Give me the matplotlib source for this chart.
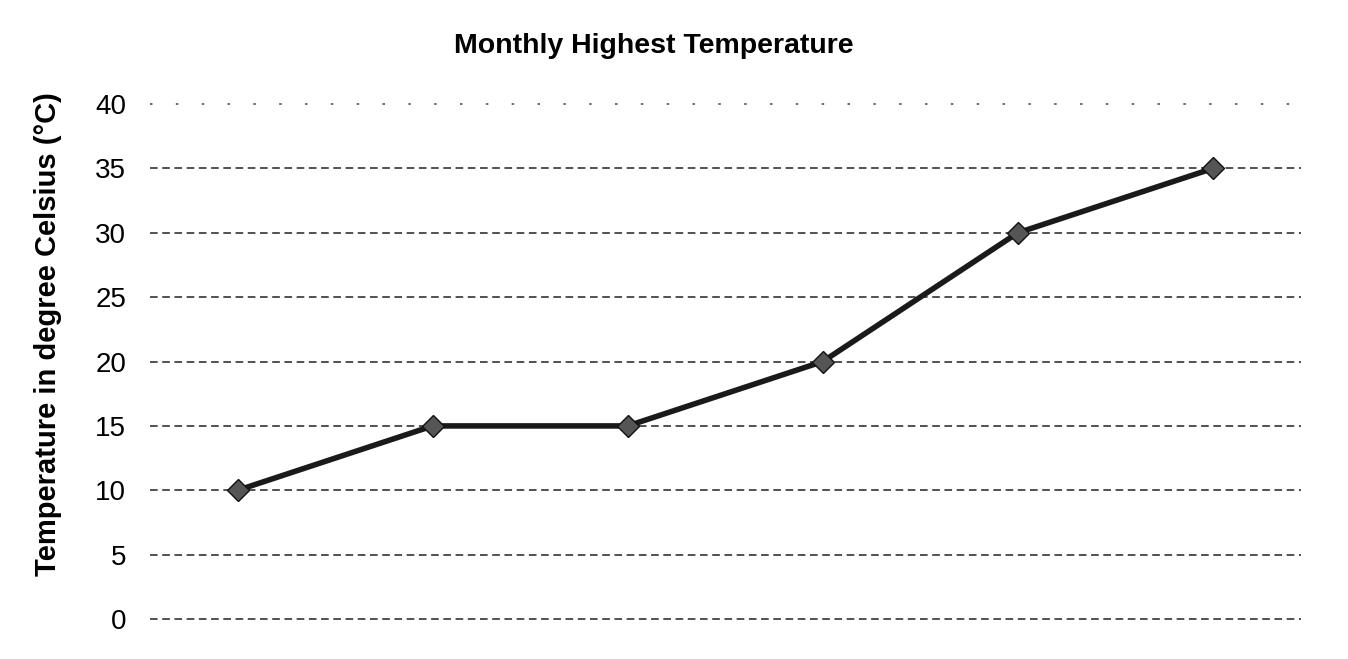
import matplotlib.pyplot as plt

plt.rcParams['font.family'] = ['Liberation Sans', 'DejaVu Sans']

# === Data ===
months = [1, 2, 3, 4, 5, 6]
temps = [10, 15, 15, 20, 30, 35]
y_ticks = [0, 5, 10, 15, 20, 25, 30, 35, 40]

fig = plt.figure(figsize=(13.48, 6.59), dpi=100)
ax = fig.add_axes([0.104, 0.0607, 0.868, 0.7813])

# dashed gridlines, the top one sparse dotted like the scan
for t in y_ticks:
    if t == 40:
        ax.axhline(t, xmin=0.008, xmax=0.992, color='#555555', lw=1.2,
                   ls=(0, (1.5, 14)), zorder=1, clip_on=False)
    else:
        ax.axhline(t, xmin=0.008, xmax=0.992, color='#222222', lw=1.1,
                   ls=(0, (5, 3)), zorder=1, clip_on=False)

x = [m - 0.5 for m in months]
ax.plot(x, temps, color='#1a1a1a', lw=4, marker='D', markersize=11,
        markerfacecolor='#555555', markeredgecolor='#111111', zorder=3)

ax.set_xlim(0, 6)
ax.set_ylim(0, 40)
ax.set_yticks(y_ticks)
ax.set_xticks([])
ax.tick_params(axis='y', length=0, pad=10, labelsize=20)
for s in ax.spines.values():
    s.set_visible(False)

ax.set_ylabel('Temperature in degree Celsius (°C)', fontsize=21, fontweight='bold')
ax.yaxis.set_label_coords(-0.067, 0.553)
fig.text(0.485, 0.93, 'Monthly Highest Temperature', ha='center', va='center',
         fontsize=20.5, fontweight='bold')

fig.savefig('out.png', dpi=100)
